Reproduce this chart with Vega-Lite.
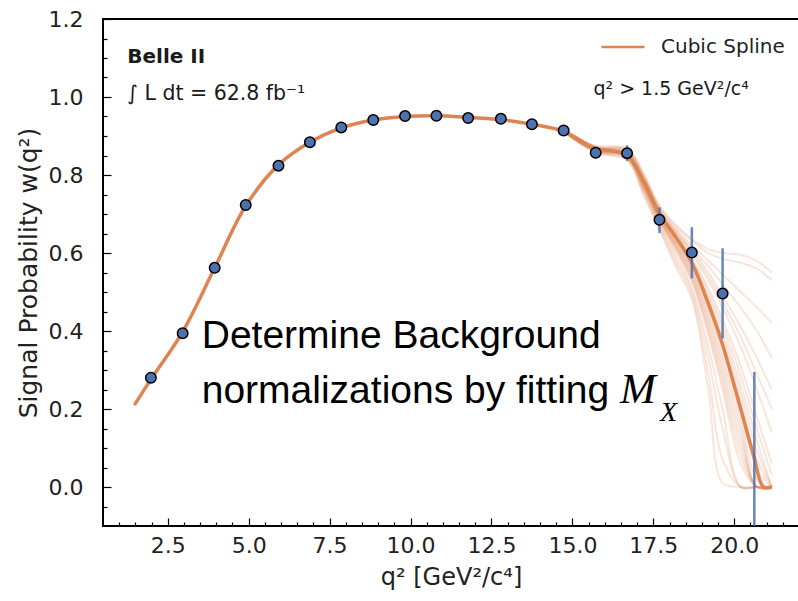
{
  "$schema": "https://vega.github.io/schema/vega-lite/v6.json",
  "width": 696,
  "height": 507,
  "autosize": {"type": "none"},
  "padding": {"left": 103, "top": 19, "right": 0, "bottom": 75},
  "background": "white",
  "config": {
    "view": {"stroke": "#000000", "strokeWidth": 2},
    "font": "DejaVu Sans",
    "axis": {
      "grid": false,
      "domain": false,
      "tickColor": "#000000",
      "tickWidth": 1.2,
      "labelFont": "DejaVu Sans",
      "labelFontSize": 22,
      "labelColor": "#222222",
      "titleFont": "DejaVu Sans",
      "titleFontSize": 24,
      "titleFontWeight": "normal",
      "titleColor": "#222222",
      "labelOverlap": false
    }
  },
  "datasets": {
    "points": [
      {"q": 1.98, "v": 0.280, "lo": 0.270, "hi": 0.290},
      {"q": 2.96, "v": 0.394, "lo": 0.384, "hi": 0.404},
      {"q": 3.95, "v": 0.562, "lo": 0.552, "hi": 0.572},
      {"q": 4.91, "v": 0.723, "lo": 0.713, "hi": 0.733},
      {"q": 5.92, "v": 0.824, "lo": 0.814, "hi": 0.834},
      {"q": 6.89, "v": 0.884, "lo": 0.874, "hi": 0.894},
      {"q": 7.86, "v": 0.922, "lo": 0.912, "hi": 0.932},
      {"q": 8.85, "v": 0.941, "lo": 0.931, "hi": 0.951},
      {"q": 9.83, "v": 0.951, "lo": 0.941, "hi": 0.961},
      {"q": 10.80, "v": 0.952, "lo": 0.942, "hi": 0.962},
      {"q": 11.78, "v": 0.946, "lo": 0.936, "hi": 0.956},
      {"q": 12.79, "v": 0.944, "lo": 0.934, "hi": 0.954},
      {"q": 13.75, "v": 0.930, "lo": 0.920, "hi": 0.940},
      {"q": 14.73, "v": 0.914, "lo": 0.902, "hi": 0.926},
      {"q": 15.72, "v": 0.857, "lo": 0.842, "hi": 0.872},
      {"q": 16.69, "v": 0.856, "lo": 0.836, "hi": 0.876},
      {"q": 17.69, "v": 0.685, "lo": 0.651, "hi": 0.717},
      {"q": 18.69, "v": 0.601, "lo": 0.535, "hi": 0.666},
      {"q": 19.64, "v": 0.496, "lo": 0.381, "hi": 0.612},
      {"q": 20.62, "v": -0.200, "lo": -0.695, "hi": 0.295}
    ],
    "spline": [
      {"q": 1.47, "v": 0.210, "s": "Cubic Spline"},
      {"q": 1.98, "v": 0.276, "s": "Cubic Spline"},
      {"q": 2.96, "v": 0.398, "s": "Cubic Spline"},
      {"q": 3.95, "v": 0.562, "s": "Cubic Spline"},
      {"q": 4.91, "v": 0.721, "s": "Cubic Spline"},
      {"q": 5.92, "v": 0.826, "s": "Cubic Spline"},
      {"q": 6.89, "v": 0.884, "s": "Cubic Spline"},
      {"q": 7.86, "v": 0.921, "s": "Cubic Spline"},
      {"q": 8.85, "v": 0.941, "s": "Cubic Spline"},
      {"q": 9.83, "v": 0.950, "s": "Cubic Spline"},
      {"q": 10.80, "v": 0.952, "s": "Cubic Spline"},
      {"q": 11.78, "v": 0.948, "s": "Cubic Spline"},
      {"q": 12.79, "v": 0.942, "s": "Cubic Spline"},
      {"q": 13.75, "v": 0.930, "s": "Cubic Spline"},
      {"q": 14.73, "v": 0.912, "s": "Cubic Spline"},
      {"q": 15.72, "v": 0.868, "s": "Cubic Spline"},
      {"q": 16.2, "v": 0.862, "s": "Cubic Spline"},
      {"q": 16.69, "v": 0.850, "s": "Cubic Spline"},
      {"q": 17.2, "v": 0.785, "s": "Cubic Spline"},
      {"q": 17.69, "v": 0.700, "s": "Cubic Spline"},
      {"q": 18.2, "v": 0.640, "s": "Cubic Spline"},
      {"q": 18.69, "v": 0.575, "s": "Cubic Spline"},
      {"q": 19.2, "v": 0.470, "s": "Cubic Spline"},
      {"q": 19.64, "v": 0.365, "s": "Cubic Spline"},
      {"q": 20.2, "v": 0.200, "s": "Cubic Spline"},
      {"q": 20.6, "v": 0.080, "s": "Cubic Spline"},
      {"q": 20.9, "v": 0.000, "s": "Cubic Spline"},
      {"q": 21.16, "v": 0.000, "s": "Cubic Spline"}
    ],
    "toys": [
      {"c": 1, "q": 14.73, "v": 0.912}, {"c": 1, "q": 15.72, "v": 0.875}, {"c": 1, "q": 16.69, "v": 0.868}, {"c": 1, "q": 17.2, "v": 0.805}, {"c": 1, "q": 17.69, "v": 0.722}, {"c": 1, "q": 18.2, "v": 0.672}, {"c": 1, "q": 18.69, "v": 0.636}, {"c": 1, "q": 19.2, "v": 0.610}, {"c": 1, "q": 19.64, "v": 0.600}, {"c": 1, "q": 20.2, "v": 0.595}, {"c": 1, "q": 20.7, "v": 0.580}, {"c": 1, "q": 21.16, "v": 0.550},
      {"c": 2, "q": 14.73, "v": 0.912}, {"c": 2, "q": 15.72, "v": 0.872}, {"c": 2, "q": 16.69, "v": 0.864}, {"c": 2, "q": 17.2, "v": 0.797}, {"c": 2, "q": 17.69, "v": 0.714}, {"c": 2, "q": 18.2, "v": 0.662}, {"c": 2, "q": 18.69, "v": 0.620}, {"c": 2, "q": 19.2, "v": 0.580}, {"c": 2, "q": 19.64, "v": 0.545}, {"c": 2, "q": 20.2, "v": 0.500}, {"c": 2, "q": 20.7, "v": 0.460}, {"c": 2, "q": 21.16, "v": 0.420},
      {"c": 3, "q": 14.73, "v": 0.912}, {"c": 3, "q": 15.72, "v": 0.870}, {"c": 3, "q": 16.69, "v": 0.860}, {"c": 3, "q": 17.2, "v": 0.792}, {"c": 3, "q": 17.69, "v": 0.710}, {"c": 3, "q": 18.2, "v": 0.654}, {"c": 3, "q": 18.69, "v": 0.607}, {"c": 3, "q": 19.2, "v": 0.550}, {"c": 3, "q": 19.64, "v": 0.490}, {"c": 3, "q": 20.2, "v": 0.410}, {"c": 3, "q": 20.7, "v": 0.330}, {"c": 3, "q": 21.16, "v": 0.250},
      {"c": 4, "q": 14.73, "v": 0.912}, {"c": 4, "q": 15.72, "v": 0.869}, {"c": 4, "q": 16.69, "v": 0.858}, {"c": 4, "q": 17.2, "v": 0.788}, {"c": 4, "q": 17.69, "v": 0.706}, {"c": 4, "q": 18.2, "v": 0.649}, {"c": 4, "q": 18.69, "v": 0.597}, {"c": 4, "q": 19.2, "v": 0.530}, {"c": 4, "q": 19.64, "v": 0.460}, {"c": 4, "q": 20.2, "v": 0.360}, {"c": 4, "q": 20.7, "v": 0.250}, {"c": 4, "q": 21.16, "v": 0.140},
      {"c": 5, "q": 14.73, "v": 0.912}, {"c": 5, "q": 15.72, "v": 0.868}, {"c": 5, "q": 16.69, "v": 0.856}, {"c": 5, "q": 17.2, "v": 0.784}, {"c": 5, "q": 17.69, "v": 0.702}, {"c": 5, "q": 18.2, "v": 0.644}, {"c": 5, "q": 18.69, "v": 0.587}, {"c": 5, "q": 19.2, "v": 0.510}, {"c": 5, "q": 19.64, "v": 0.430}, {"c": 5, "q": 20.2, "v": 0.310}, {"c": 5, "q": 20.7, "v": 0.180}, {"c": 5, "q": 21.16, "v": 0.060},
      {"c": 6, "q": 14.73, "v": 0.912}, {"c": 6, "q": 15.72, "v": 0.867}, {"c": 6, "q": 16.69, "v": 0.855}, {"c": 6, "q": 17.2, "v": 0.781}, {"c": 6, "q": 17.69, "v": 0.698}, {"c": 6, "q": 18.2, "v": 0.636}, {"c": 6, "q": 18.69, "v": 0.577}, {"c": 6, "q": 19.2, "v": 0.490}, {"c": 6, "q": 19.64, "v": 0.400}, {"c": 6, "q": 20.2, "v": 0.260}, {"c": 6, "q": 20.7, "v": 0.120}, {"c": 6, "q": 21.16, "v": 0.000},
      {"c": 7, "q": 14.73, "v": 0.912}, {"c": 7, "q": 15.72, "v": 0.866}, {"c": 7, "q": 16.69, "v": 0.853}, {"c": 7, "q": 17.2, "v": 0.778}, {"c": 7, "q": 17.69, "v": 0.695}, {"c": 7, "q": 18.2, "v": 0.630}, {"c": 7, "q": 18.69, "v": 0.567}, {"c": 7, "q": 19.2, "v": 0.470}, {"c": 7, "q": 19.64, "v": 0.370}, {"c": 7, "q": 20.2, "v": 0.220}, {"c": 7, "q": 20.7, "v": 0.070}, {"c": 7, "q": 21.16, "v": 0.000},
      {"c": 8, "q": 14.73, "v": 0.912}, {"c": 8, "q": 15.72, "v": 0.865}, {"c": 8, "q": 16.69, "v": 0.852}, {"c": 8, "q": 17.2, "v": 0.775}, {"c": 8, "q": 17.69, "v": 0.692}, {"c": 8, "q": 18.2, "v": 0.625}, {"c": 8, "q": 18.69, "v": 0.557}, {"c": 8, "q": 19.2, "v": 0.450}, {"c": 8, "q": 19.64, "v": 0.340}, {"c": 8, "q": 20.2, "v": 0.180}, {"c": 8, "q": 20.7, "v": 0.020}, {"c": 8, "q": 21.16, "v": 0.000},
      {"c": 9, "q": 14.73, "v": 0.912}, {"c": 9, "q": 15.72, "v": 0.864}, {"c": 9, "q": 16.69, "v": 0.850}, {"c": 9, "q": 17.2, "v": 0.772}, {"c": 9, "q": 17.69, "v": 0.688}, {"c": 9, "q": 18.2, "v": 0.619}, {"c": 9, "q": 18.69, "v": 0.547}, {"c": 9, "q": 19.2, "v": 0.430}, {"c": 9, "q": 19.64, "v": 0.310}, {"c": 9, "q": 20.2, "v": 0.140}, {"c": 9, "q": 20.7, "v": 0.000}, {"c": 9, "q": 21.16, "v": 0.000},
      {"c": 10, "q": 14.73, "v": 0.912}, {"c": 10, "q": 15.72, "v": 0.863}, {"c": 10, "q": 16.69, "v": 0.849}, {"c": 10, "q": 17.2, "v": 0.769}, {"c": 10, "q": 17.69, "v": 0.685}, {"c": 10, "q": 18.2, "v": 0.613}, {"c": 10, "q": 18.69, "v": 0.537}, {"c": 10, "q": 19.2, "v": 0.410}, {"c": 10, "q": 19.64, "v": 0.280}, {"c": 10, "q": 20.2, "v": 0.100}, {"c": 10, "q": 20.7, "v": 0.000}, {"c": 10, "q": 21.16, "v": 0.000},
      {"c": 11, "q": 14.73, "v": 0.912}, {"c": 11, "q": 15.72, "v": 0.862}, {"c": 11, "q": 16.69, "v": 0.847}, {"c": 11, "q": 17.2, "v": 0.766}, {"c": 11, "q": 17.69, "v": 0.680}, {"c": 11, "q": 18.2, "v": 0.604}, {"c": 11, "q": 18.69, "v": 0.527}, {"c": 11, "q": 19.2, "v": 0.390}, {"c": 11, "q": 19.64, "v": 0.250}, {"c": 11, "q": 20.2, "v": 0.060}, {"c": 11, "q": 20.7, "v": 0.000}, {"c": 11, "q": 21.16, "v": 0.000},
      {"c": 12, "q": 14.73, "v": 0.912}, {"c": 12, "q": 15.72, "v": 0.861}, {"c": 12, "q": 16.69, "v": 0.845}, {"c": 12, "q": 17.2, "v": 0.762}, {"c": 12, "q": 17.69, "v": 0.675}, {"c": 12, "q": 18.2, "v": 0.594}, {"c": 12, "q": 18.69, "v": 0.512}, {"c": 12, "q": 19.2, "v": 0.360}, {"c": 12, "q": 19.64, "v": 0.200}, {"c": 12, "q": 20.2, "v": 0.000}, {"c": 12, "q": 20.7, "v": 0.000}, {"c": 12, "q": 21.16, "v": 0.000},
      {"c": 13, "q": 14.73, "v": 0.912}, {"c": 13, "q": 15.72, "v": 0.860}, {"c": 13, "q": 16.69, "v": 0.843}, {"c": 13, "q": 17.2, "v": 0.758}, {"c": 13, "q": 17.69, "v": 0.670}, {"c": 13, "q": 18.2, "v": 0.584}, {"c": 13, "q": 18.69, "v": 0.502}, {"c": 13, "q": 19.2, "v": 0.330}, {"c": 13, "q": 19.64, "v": 0.150}, {"c": 13, "q": 20.2, "v": 0.000}, {"c": 13, "q": 20.7, "v": 0.000}, {"c": 13, "q": 21.16, "v": 0.000},
      {"c": 14, "q": 14.73, "v": 0.912}, {"c": 14, "q": 15.72, "v": 0.858}, {"c": 14, "q": 16.69, "v": 0.840}, {"c": 14, "q": 17.2, "v": 0.753}, {"c": 14, "q": 17.69, "v": 0.665}, {"c": 14, "q": 18.2, "v": 0.574}, {"c": 14, "q": 18.69, "v": 0.492}, {"c": 14, "q": 19.2, "v": 0.290}, {"c": 14, "q": 19.64, "v": 0.070}, {"c": 14, "q": 20.2, "v": 0.000}, {"c": 14, "q": 20.7, "v": 0.000}, {"c": 14, "q": 21.16, "v": 0.000},
      {"c": 15, "q": 14.73, "v": 0.912}, {"c": 15, "q": 15.72, "v": 0.857}, {"c": 15, "q": 16.69, "v": 0.838}, {"c": 15, "q": 17.2, "v": 0.748}, {"c": 15, "q": 17.69, "v": 0.660}, {"c": 15, "q": 18.2, "v": 0.564}, {"c": 15, "q": 18.69, "v": 0.482}, {"c": 15, "q": 19.2, "v": 0.250}, {"c": 15, "q": 19.64, "v": 0.010}, {"c": 15, "q": 20.2, "v": 0.000}, {"c": 15, "q": 20.7, "v": 0.000}, {"c": 15, "q": 21.16, "v": 0.000},
      {"c": 16, "q": 14.73, "v": 0.912}, {"c": 16, "q": 15.72, "v": 0.871}, {"c": 16, "q": 16.69, "v": 0.862}, {"c": 16, "q": 17.2, "v": 0.795}, {"c": 16, "q": 17.69, "v": 0.712}, {"c": 16, "q": 18.2, "v": 0.658}, {"c": 16, "q": 18.69, "v": 0.612}, {"c": 16, "q": 19.2, "v": 0.565}, {"c": 16, "q": 19.64, "v": 0.520}, {"c": 16, "q": 20.2, "v": 0.460}, {"c": 16, "q": 20.7, "v": 0.400}, {"c": 16, "q": 21.16, "v": 0.330},
      {"c": 17, "q": 14.73, "v": 0.912}, {"c": 17, "q": 15.72, "v": 0.869}, {"c": 17, "q": 16.69, "v": 0.859}, {"c": 17, "q": 17.2, "v": 0.790}, {"c": 17, "q": 17.69, "v": 0.708}, {"c": 17, "q": 18.2, "v": 0.651}, {"c": 17, "q": 18.69, "v": 0.602}, {"c": 17, "q": 19.2, "v": 0.540}, {"c": 17, "q": 19.64, "v": 0.475}, {"c": 17, "q": 20.2, "v": 0.385}, {"c": 17, "q": 20.7, "v": 0.290}, {"c": 17, "q": 21.16, "v": 0.200},
      {"c": 18, "q": 14.73, "v": 0.912}, {"c": 18, "q": 15.72, "v": 0.867}, {"c": 18, "q": 16.69, "v": 0.855}, {"c": 18, "q": 17.2, "v": 0.782}, {"c": 18, "q": 17.69, "v": 0.700}, {"c": 18, "q": 18.2, "v": 0.638}, {"c": 18, "q": 18.69, "v": 0.580}, {"c": 18, "q": 19.2, "v": 0.500}, {"c": 18, "q": 19.64, "v": 0.415}, {"c": 18, "q": 20.2, "v": 0.285}, {"c": 18, "q": 20.7, "v": 0.150}, {"c": 18, "q": 21.16, "v": 0.030},
      {"c": 19, "q": 14.73, "v": 0.912}, {"c": 19, "q": 15.72, "v": 0.866}, {"c": 19, "q": 16.69, "v": 0.854}, {"c": 19, "q": 17.2, "v": 0.780}, {"c": 19, "q": 17.69, "v": 0.697}, {"c": 19, "q": 18.2, "v": 0.633}, {"c": 19, "q": 18.69, "v": 0.572}, {"c": 19, "q": 19.2, "v": 0.480}, {"c": 19, "q": 19.64, "v": 0.385}, {"c": 19, "q": 20.2, "v": 0.240}, {"c": 19, "q": 20.7, "v": 0.095}, {"c": 19, "q": 21.16, "v": 0.000},
      {"c": 20, "q": 14.73, "v": 0.912}, {"c": 20, "q": 15.72, "v": 0.864}, {"c": 20, "q": 16.69, "v": 0.851}, {"c": 20, "q": 17.2, "v": 0.774}, {"c": 20, "q": 17.69, "v": 0.690}, {"c": 20, "q": 18.2, "v": 0.621}, {"c": 20, "q": 18.69, "v": 0.552}, {"c": 20, "q": 19.2, "v": 0.440}, {"c": 20, "q": 19.64, "v": 0.325}, {"c": 20, "q": 20.2, "v": 0.160}, {"c": 20, "q": 20.7, "v": 0.000}, {"c": 20, "q": 21.16, "v": 0.000},
      {"c": 21, "q": 14.73, "v": 0.912}, {"c": 21, "q": 15.72, "v": 0.862}, {"c": 21, "q": 16.69, "v": 0.848}, {"c": 21, "q": 17.2, "v": 0.768}, {"c": 21, "q": 17.69, "v": 0.683}, {"c": 21, "q": 18.2, "v": 0.609}, {"c": 21, "q": 18.69, "v": 0.532}, {"c": 21, "q": 19.2, "v": 0.400}, {"c": 21, "q": 19.64, "v": 0.265}, {"c": 21, "q": 20.2, "v": 0.080}, {"c": 21, "q": 20.7, "v": 0.000}, {"c": 21, "q": 21.16, "v": 0.000},
      {"c": 22, "q": 14.73, "v": 0.912}, {"c": 22, "q": 15.72, "v": 0.874}, {"c": 22, "q": 16.69, "v": 0.866}, {"c": 22, "q": 17.2, "v": 0.800}, {"c": 22, "q": 17.69, "v": 0.718}, {"c": 22, "q": 18.2, "v": 0.668}, {"c": 22, "q": 18.69, "v": 0.632}, {"c": 22, "q": 19.2, "v": 0.600}, {"c": 22, "q": 19.64, "v": 0.585}, {"c": 22, "q": 20.2, "v": 0.575}, {"c": 22, "q": 20.7, "v": 0.560}, {"c": 22, "q": 21.16, "v": 0.530},
      {"c": 23, "q": 14.73, "v": 0.912}, {"c": 23, "q": 15.72, "v": 0.863}, {"c": 23, "q": 16.69, "v": 0.850}, {"c": 23, "q": 17.2, "v": 0.771}, {"c": 23, "q": 17.69, "v": 0.687}, {"c": 23, "q": 18.2, "v": 0.616}, {"c": 23, "q": 18.69, "v": 0.542}, {"c": 23, "q": 19.2, "v": 0.420}, {"c": 23, "q": 19.64, "v": 0.295}, {"c": 23, "q": 20.2, "v": 0.120}, {"c": 23, "q": 20.7, "v": 0.000}, {"c": 23, "q": 21.16, "v": 0.000},
      {"c": 24, "q": 14.73, "v": 0.912}, {"c": 24, "q": 15.72, "v": 0.866}, {"c": 24, "q": 16.69, "v": 0.853}, {"c": 24, "q": 17.2, "v": 0.779}, {"c": 24, "q": 17.69, "v": 0.696}, {"c": 24, "q": 18.2, "v": 0.628}, {"c": 24, "q": 18.69, "v": 0.562}, {"c": 24, "q": 19.2, "v": 0.460}, {"c": 24, "q": 19.64, "v": 0.355}, {"c": 24, "q": 20.2, "v": 0.200}, {"c": 24, "q": 20.7, "v": 0.045}, {"c": 24, "q": 21.16, "v": 0.000}
    ]
  },
  "encoding": {
    "x": {
      "field": "q",
      "type": "quantitative",
      "scale": {"domain": [0.5, 22], "nice": false, "zero": false},
      "axis": {
        "title": "q² [GeV²/c⁴]",
        "values": [1, 1.5, 2, 2.5, 3, 3.5, 4, 4.5, 5, 5.5, 6, 6.5, 7, 7.5, 8, 8.5, 9, 9.5, 10, 10.5, 11, 11.5, 12, 12.5, 13, 13.5, 14, 14.5, 15, 15.5, 16, 16.5, 17, 17.5, 18, 18.5, 19, 19.5, 20, 20.5, 21, 21.5],
        "labelExpr": "datum.value % 2.5 === 0 ? format(datum.value, '.1f') : ''",
        "tickSize": {"condition": {"test": "datum.value % 2.5 === 0", "value": -8}, "value": -4},
        "labelPadding": 17,
        "titlePadding": 5
      }
    },
    "y": {
      "field": "v",
      "type": "quantitative",
      "scale": {"domain": [-0.1, 1.2], "nice": false, "zero": false},
      "axis": {
        "title": "Signal Probability w(q²)",
        "titleFontSize": 25,
        "values": [-0.05, 0, 0.05, 0.1, 0.15, 0.2, 0.25, 0.3, 0.35, 0.4, 0.45, 0.5, 0.55, 0.6, 0.65, 0.7, 0.75, 0.8, 0.85, 0.9, 0.95, 1, 1.05, 1.1, 1.15, 1.2],
        "labelExpr": "abs(datum.value * 5 - round(datum.value * 5)) < 0.000001 ? format(datum.value, '.1f') : ''",
        "tickSize": {"condition": {"test": "abs(datum.value * 5 - round(datum.value * 5)) < 0.000001", "value": -8}, "value": -4},
        "labelPadding": 28,
        "titlePadding": 7
      }
    }
  },
  "layer": [
    {
      "data": {"name": "toys"},
      "mark": {"type": "line", "stroke": "#dd8452", "strokeWidth": 2, "opacity": 0.2, "interpolate": "catmull-rom", "clip": true},
      "encoding": {"detail": {"field": "c", "type": "nominal"}}
    },
    {
      "data": {"name": "spline"},
      "mark": {"type": "line", "strokeWidth": 3.5, "interpolate": "catmull-rom", "clip": true},
      "encoding": {
        "color": {
          "field": "s",
          "type": "nominal",
          "scale": {"range": ["#dd8452"]},
          "legend": {
            "title": null,
            "orient": "none",
            "legendX": 497,
            "legendY": 5,
            "padding": 0,
            "symbolType": "stroke",
            "symbolSize": 1850,
            "symbolStrokeWidth": 2.5,
            "labelFont": "DejaVu Sans",
            "labelFontSize": 20,
            "labelColor": "#222222",
            "labelOffset": 15
          }
        }
      }
    },
    {
      "data": {"name": "points"},
      "mark": {"type": "rule", "stroke": "#4c72b0", "strokeWidth": 2.5, "opacity": 0.85, "clip": true},
      "encoding": {"y": {"field": "lo", "type": "quantitative"}, "y2": {"field": "hi"}}
    },
    {
      "data": {"name": "points"},
      "mark": {"type": "point", "shape": "circle", "filled": true, "fill": "#4c72b0", "stroke": "#000000", "strokeWidth": 1.5, "size": 110, "opacity": 1, "clip": true}
    },
    {
      "data": {"values": [{"q": 1.25, "v": 1.0864, "t": "Belle II"}]},
      "mark": {"type": "text", "align": "left", "baseline": "alphabetic", "font": "DejaVu Sans", "fontWeight": "bold", "fontSize": 20, "color": "#1a1a1a"},
      "encoding": {"text": {"field": "t"}}
    },
    {
      "data": {"values": [{"q": 1.25, "v": 0.992, "t": "∫ L dt = 62.8 fb⁻¹"}]},
      "mark": {"type": "text", "align": "left", "baseline": "alphabetic", "font": "DejaVu Sans", "fontSize": 20.5, "letterSpacing": 0.6, "color": "#1a1a1a"},
      "encoding": {"text": {"field": "t"}}
    },
    {
      "data": {"values": [{"q": 15.65, "v": 1.005, "t": "q² > 1.5 GeV²/c⁴"}]},
      "mark": {"type": "text", "align": "left", "baseline": "alphabetic", "font": "DejaVu Sans", "fontSize": 19, "color": "#1a1a1a"},
      "encoding": {"text": {"field": "t"}}
    },
    {
      "data": {"values": [{"q": 3.55, "v": 0.356, "t": "Determine Background"}, {"q": 3.55, "v": 0.215, "t": "normalizations by fitting"}]},
      "mark": {"type": "text", "align": "left", "baseline": "alphabetic", "font": "Liberation Sans", "fontSize": 39, "color": "#000000"},
      "encoding": {"text": {"field": "t"}}
    },
    {
      "data": {"values": [{"q": 16.47, "v": 0.215, "t": "M"}]},
      "mark": {"type": "text", "align": "left", "baseline": "alphabetic", "font": "Liberation Serif", "fontStyle": "italic", "fontSize": 43, "color": "#000000"},
      "encoding": {"text": {"field": "t"}}
    },
    {
      "data": {"values": [{"q": 17.71, "v": 0.169, "t": "X"}]},
      "mark": {"type": "text", "align": "left", "baseline": "alphabetic", "font": "Liberation Serif", "fontStyle": "italic", "fontSize": 28, "color": "#000000"},
      "encoding": {"text": {"field": "t"}}
    }
  ]
}
